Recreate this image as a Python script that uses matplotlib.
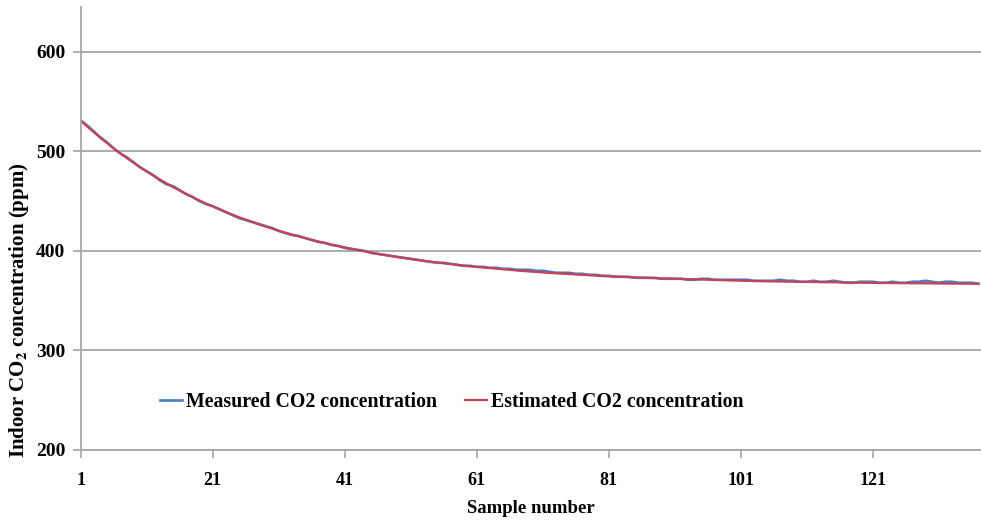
import matplotlib
matplotlib.use("Agg")
import matplotlib.pyplot as plt
import numpy as np

# measured CO2 (ppm), samples 1..137
measured = [
    531, 526, 520, 514, 509, 503, 498, 494, 489, 484,
    480, 476, 471, 467, 465, 461, 457, 454, 450, 447,
    445, 442, 439, 436, 433, 431, 429, 427, 425, 423,
    420, 418, 416, 415, 413, 411, 409, 408, 406, 405,
    403, 402, 401, 400, 398, 397, 396, 395, 394, 393,
    392, 391, 390, 389, 388, 388, 387, 386, 385, 385,
    384, 384, 383, 383, 382, 382, 381, 381, 381, 380,
    380, 379, 378, 378, 378, 377, 377, 376, 376, 375,
    375, 374, 374, 374, 373, 373, 373, 373, 372, 372,
    372, 372, 371, 371, 372, 372, 371, 371, 371, 371,
    371, 371, 370, 370, 370, 370, 371, 370, 370, 369,
    369, 370, 369, 369, 370, 369, 368, 368, 369, 369,
    369, 368, 368, 369, 368, 368, 369, 369, 370, 369,
    368, 369, 369, 368, 368, 368, 367,
]

# estimated CO2 (ppm)
estimated = [
    531.0, 525.0, 519.2, 513.6, 508.3, 503.1, 498.1, 493.3, 488.7, 484.2,
    479.9, 475.8, 471.8, 467.9, 464.2, 460.7, 457.2, 453.9, 450.7, 447.6,
    444.7, 441.8, 439.0, 436.4, 433.8, 431.4, 429.0, 426.7, 424.5, 422.4,
    420.3, 418.3, 416.4, 414.6, 412.8, 411.1, 409.5, 407.9, 406.4, 404.9,
    403.5, 402.1, 400.8, 399.5, 398.3, 397.1, 396.0, 394.9, 393.9, 392.9,
    391.9, 390.9, 390.0, 389.2, 388.3, 387.5, 386.7, 386.0, 385.2, 384.5,
    383.9, 383.2, 382.6, 382.0, 381.4, 380.9, 380.3, 379.8, 379.3, 378.8,
    378.3, 377.9, 377.5, 377.0, 376.6, 376.3, 375.9, 375.5, 375.2, 374.8,
    374.5, 374.2, 373.9, 373.6, 373.3, 373.1, 372.8, 372.6, 372.3, 372.1,
    371.9, 371.7, 371.5, 371.3, 371.1, 370.9, 370.7, 370.5, 370.4, 370.2,
    370.1, 369.9, 369.8, 369.6, 369.5, 369.4, 369.2, 369.1, 369.0, 368.9,
    368.8, 368.7, 368.6, 368.5, 368.4, 368.3, 368.2, 368.1, 368.1, 368.0,
    367.9, 367.8, 367.8, 367.7, 367.6, 367.6, 367.5, 367.5, 367.4, 367.3,
    367.3, 367.2, 367.2, 367.1, 367.1, 367.0, 367.0,
]

x_ticks = [1, 21, 41, 61, 81, 101, 121]
y_ticks = [200, 300, 400, 500, 600]

plt.rcParams['font.family'] = ['Liberation Serif', 'DejaVu Serif']
plt.rcParams['font.weight'] = 'bold'
plt.rcParams['mathtext.fontset'] = 'stix'

samples = np.arange(1, len(measured) + 1)
grey = '#a6a6a6'

fig = plt.figure(figsize=(9.81, 5.21), dpi=100)
ax = fig.add_axes([80.6 / 981, 1 - 450 / 521, 1 - 80.6 / 981, (450 - 7) / 521])

ax.plot(samples, measured, color='#4a7ebb', lw=1.9, label='Measured CO2 concentration')
ax.plot(samples, estimated, color='#c9405a', lw=1.6, label='Estimated CO2 concentration')

ax.set_xlim(1, 137.4)
ax.set_ylim(200, 645)
ax.set_xticks(x_ticks)
ax.set_yticks(y_ticks)
ax.grid(axis='y', color=grey, lw=1.3)
ax.set_axisbelow(True)

for s in ['top', 'right']:
    ax.spines[s].set_visible(False)
for s in ['left', 'bottom']:
    ax.spines[s].set_color(grey)
    ax.spines[s].set_linewidth(1.3)

ax.tick_params(axis='both', colors=grey, labelcolor='black', length=6, width=1.2)
ax.tick_params(axis='x', pad=10, labelsize=13)
ax.tick_params(axis='y', pad=5, labelsize=14)
for lab in ax.get_xticklabels() + ax.get_yticklabels():
    lab.set_fontweight('bold')

ax.set_xlabel('Sample number', fontsize=13.5, fontweight='bold', labelpad=8)
ax.set_ylabel(r'Indoor CO$_{\mathbf{2}}$ concentration (ppm)', fontsize=15,
              fontweight='bold')
ax.yaxis.set_label_coords(-0.055, 0.315)

ax.legend(loc='center', bbox_to_anchor=(0.412, 0.108), ncol=2, frameon=False,
          handlelength=1.1, columnspacing=1.4, handletextpad=0.2,
          prop={'weight': 'bold', 'size': 14.3})

fig.savefig('out.png', dpi=100)
